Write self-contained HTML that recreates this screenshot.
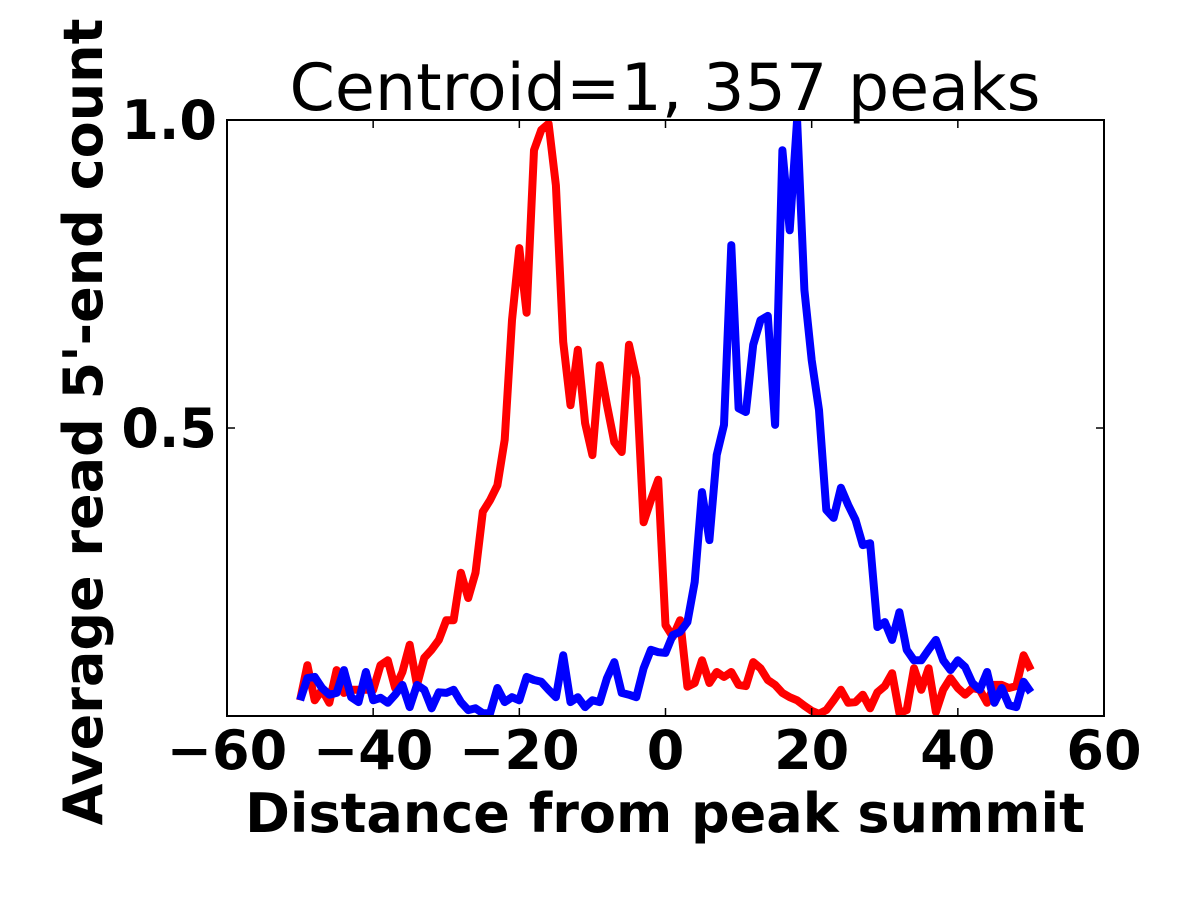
<!DOCTYPE html>
<html><head><meta charset="utf-8"><style>
html,body{margin:0;padding:0;background:#fff;}
svg{display:block;font-family:"DejaVu Sans","Liberation Sans",sans-serif;}
</style></head><body>
<svg id="chart" width="1200" height="900">
<defs><clipPath id="plotclip"><rect x="227" y="120" width="877" height="596"/></clipPath></defs>
<text x="665" y="110" text-anchor="middle" font-size="65">Centroid=1, 357 peaks</text>
<g id="lines" clip-path="url(#plotclip)"></g>
<rect x="227" y="120" width="877" height="596" fill="none" stroke="#000" stroke-width="2"/>
<g id="axes"></g>
<text x="665" y="832" text-anchor="middle" font-size="54" font-weight="bold">Distance from peak summit</text>
<text transform="translate(102,422) rotate(-90)" text-anchor="middle" font-size="54" font-weight="bold">Average read 5'-end count</text>
</svg>
<script>
const xStart = -50;
const redValues = [0.058,0.115,0.058,0.075,0.054,0.107,0.070,0.075,0.075,0.075,0.075,0.115,0.123,0.078,0.104,0.148,0.083,0.127,0.140,0.156,0.188,0.188,0.265,0.224,0.265,0.364,0.383,0.407,0.481,0.675,0.792,0.687,0.951,0.984,0.994,0.894,0.640,0.537,0.627,0.508,0.456,0.602,0.537,0.477,0.461,0.635,0.581,0.347,0.383,0.416,0.180,0.161,0.188,0.080,0.086,0.123,0.086,0.104,0.096,0.104,0.083,0.081,0.120,0.110,0.091,0.083,0.070,0.063,0.058,0.049,0.041,0.036,0.042,0.058,0.075,0.054,0.055,0.067,0.045,0.071,0.081,0.102,0.037,0.042,0.110,0.075,0.110,0.039,0.075,0.094,0.078,0.067,0.078,0.075,0.054,0.083,0.083,0.078,0.081,0.131,0.107];
const blueValues = [0.058,0.094,0.096,0.078,0.067,0.070,0.107,0.063,0.055,0.104,0.058,0.062,0.054,0.067,0.083,0.047,0.083,0.075,0.045,0.071,0.070,0.075,0.055,0.042,0.045,0.037,0.037,0.078,0.055,0.063,0.058,0.096,0.091,0.088,0.075,0.063,0.131,0.055,0.063,0.047,0.058,0.055,0.094,0.120,0.070,0.067,0.063,0.110,0.140,0.136,0.135,0.164,0.169,0.185,0.250,0.396,0.318,0.456,0.505,0.797,0.532,0.526,0.635,0.675,0.682,0.505,0.951,0.821,1.0,0.724,0.610,0.529,0.367,0.354,0.403,0.375,0.351,0.310,0.313,0.177,0.185,0.156,0.201,0.140,0.123,0.123,0.140,0.156,0.123,0.107,0.123,0.112,0.086,0.075,0.104,0.054,0.078,0.050,0.047,0.088,0.071];
const xTicks = [-60,-40,-20,0,20,40,60];
const xTickLabels = ["\u221260","\u221240","\u221220","0","20","40","60"];
const yTicks = [0.5,1.0];
const yTickLabels = ["0.5","1.0"];
const xDomain = [-60,60], yDomain = [0.0325,1.0];
const L=227,R=1104,T=120,B=716;
const sx = v => L + (v-xDomain[0])/(xDomain[1]-xDomain[0])*(R-L);
const sy = v => B - (v-yDomain[0])/(yDomain[1]-yDomain[0])*(B-T);
const NS="http://www.w3.org/2000/svg";
const lines=document.getElementById('lines'), axes=document.getElementById('axes');
function drawLine(vals,color,name){
  const p=document.createElementNS(NS,'polyline');
  p.setAttribute('points',vals.map((v,i)=>sx(xStart+i).toFixed(1)+','+sy(v).toFixed(1)).join(' '));
  p.setAttribute('fill','none');p.setAttribute('stroke',color);p.setAttribute('stroke-width','8');
  p.setAttribute('stroke-linejoin','round');
  
  
  lines.appendChild(p);
}
drawLine(redValues,'#ff0000','red-series-line');
drawLine(blueValues,'#0000ff','blue-series-line');
xTicks.forEach((t,i)=>{
  const x=sx(t);
  [[B,B-8],[T,T+8]].forEach(([a,b])=>{
    const l=document.createElementNS(NS,'line');
    l.setAttribute('x1',x);l.setAttribute('x2',x);l.setAttribute('y1',a);l.setAttribute('y2',b);l.setAttribute('stroke','#000');l.setAttribute('stroke-width','1.5');
    
    
    axes.appendChild(l);
  });
  const tx=document.createElementNS(NS,'text');
  tx.setAttribute('x',x);tx.setAttribute('y',769);tx.setAttribute('text-anchor','middle');
  tx.setAttribute('font-size','54');tx.setAttribute('font-weight','bold');
  tx.textContent=xTickLabels[i];
  
  
  axes.appendChild(tx);
});
yTicks.forEach((t,i)=>{
  const y=sy(t);
  [[L,L+8],[R,R-8]].forEach(([a,b])=>{
    const l=document.createElementNS(NS,'line');
    l.setAttribute('x1',a);l.setAttribute('x2',b);l.setAttribute('y1',y);l.setAttribute('y2',y);l.setAttribute('stroke','#000');l.setAttribute('stroke-width','1.5');
    
    
    axes.appendChild(l);
  });
  const tx=document.createElementNS(NS,'text');
  tx.setAttribute('x',217);tx.setAttribute('y',y+19);tx.setAttribute('text-anchor','end');
  tx.setAttribute('font-size','54');tx.setAttribute('font-weight','bold');
  tx.textContent=yTickLabels[i];
  
  
  axes.appendChild(tx);
});
</script>
</body></html>
